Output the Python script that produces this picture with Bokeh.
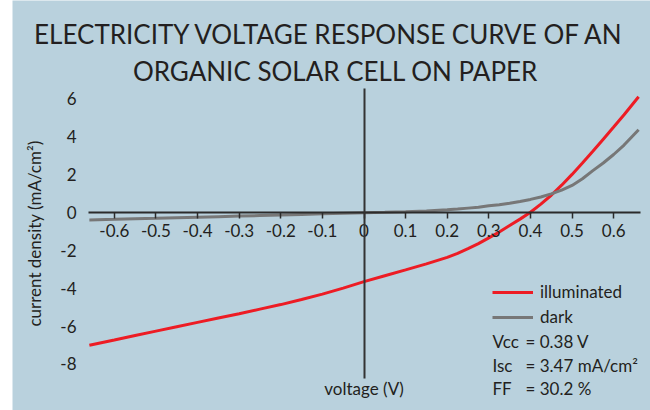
from bokeh.plotting import figure
from bokeh.models import (Range1d, LinearAxis, FixedTicker, Legend,
                          LegendItem, CustomJSTickFormatter)
from bokeh.core.properties import value
from bokeh.embed import file_html
from bokeh.resources import INLINE

# ---------------- data ----------------
voltage = [-0.66, -0.60, -0.55, -0.50, -0.45, -0.40, -0.35, -0.30, -0.25,
           -0.20, -0.15, -0.10, -0.05, 0.00, 0.05, 0.10, 0.15, 0.20, 0.225,
           0.25, 0.275, 0.30, 0.325, 0.35, 0.375, 0.40, 0.425, 0.45, 0.475,
           0.50, 0.525, 0.55, 0.575, 0.60, 0.625, 0.66]
illuminated = [-7.02, -6.74, -6.50, -6.27, -6.04, -5.81, -5.58, -5.35, -5.11,
               -4.87, -4.60, -4.32, -4.00, -3.66, -3.35, -3.04, -2.72, -2.38,
               -2.17, -1.92, -1.65, -1.35, -1.04, -0.70, -0.36, 0.00, 0.43,
               0.90, 1.43, 2.00, 2.60, 3.22, 3.86, 4.50, 5.15, 6.10]
dark = [-0.40, -0.37, -0.34, -0.32, -0.29, -0.26, -0.23, -0.20, -0.17,
        -0.14, -0.11, -0.08, -0.05, -0.02, 0.00, 0.03, 0.07, 0.13, 0.17,
        0.22, 0.27, 0.34, 0.40, 0.48, 0.57, 0.68, 0.81, 0.97, 1.17,
        1.42, 1.77, 2.20, 2.60, 3.05, 3.55, 4.36]

x_ticks = [-0.6, -0.5, -0.4, -0.3, -0.2, -0.1, 0, 0.1, 0.2, 0.3, 0.4, 0.5, 0.6]
y_ticks = [-8, -6, -4, -2, 0, 2, 4, 6]

title_lines = ["ELECTRICITY VOLTAGE RESPONSE CURVE OF AN",
               "ORGANIC SOLAR CELL ON PAPER"]
series_names = ["illuminated", "dark"]
stat_names = ["Vcc", "Isc", "FF"]
stat_values = ["= 0.38 V", "= 3.47 mA/cm\u00b2", "= 30.2 %"]
x_label = "voltage (V)"
y_label = "current density (mA/cm\u00b2)"

# ---------------- style ----------------
BG = "#b9d1dd"
TEXT = "#231f20"
AXIS = "#2b2b2b"
RED = "#ed1c24"
GRAY = "#777777"
FONT = "Lato"
FS = "17px"
W, H = 650, 410
LEFT_STRIP = 12

# pixel <-> data mapping (page pixels of the picture)
X_ZERO, X_PX = 363.5, 416.1
Y_ZERO, Y_PX = 211.8, 18.95


def dx(px):
    return (px - X_ZERO) / X_PX


def dy(py):
    return (Y_ZERO - py) / Y_PX


p = figure(width=W, height=H,
           x_range=Range1d(dx(LEFT_STRIP), dx(W)),
           y_range=Range1d(dy(H), dy(0)),
           output_backend="svg", toolbar_location=None,
           x_axis_type=None, y_axis_type=None,
           min_border_left=LEFT_STRIP, min_border_right=0,
           min_border_top=0, min_border_bottom=0,
           background_fill_color=BG, border_fill_color="white",
           outline_line_color=None)

fmt = CustomJSTickFormatter(code="return String(tick)")

# horizontal axis through J = 0
xaxis = LinearAxis(fixed_location=0, ticker=FixedTicker(ticks=x_ticks),
                   bounds=(dx(88), dx(640)), formatter=fmt,
                   major_tick_in=0, major_tick_out=6,
                   minor_tick_line_color=None,
                   axis_line_color=AXIS, axis_line_width=2,
                   major_tick_line_color=AXIS, major_tick_line_width=1.5,
                   major_label_text_font=FONT,
                   major_label_text_font_size=FS,
                   major_label_text_color=TEXT,
                   major_label_standoff=6)
p.add_layout(xaxis, "below")

# y tick labels + y axis title at the left of the data area
yaxis = LinearAxis(fixed_location=dx(88), ticker=FixedTicker(ticks=y_ticks),
                   bounds=(dy(378), dy(88)), formatter=fmt,
                   axis_line_color=None, major_tick_line_color=None,
                   minor_tick_line_color=None,
                   major_label_standoff=6,
                   major_label_text_font=FONT,
                   major_label_text_font_size=FS,
                   major_label_text_color=TEXT,
                   axis_label=y_label,
                   axis_label_text_font=FONT,
                   axis_label_text_font_size=FS,
                   axis_label_text_font_style="normal",
                   axis_label_text_color=TEXT,
                   axis_label_standoff=12)
p.add_layout(yaxis, "left")

# vertical axis line through V = 0
vline = LinearAxis(fixed_location=0, ticker=FixedTicker(ticks=[]),
                   bounds=(dy(378), dy(88)),
                   axis_line_color="#333333", axis_line_width=2,
                   major_tick_line_color=None, minor_tick_line_color=None,
                   major_label_text_font_size="0px")
p.add_layout(vline, "left")

r_ill = p.line(voltage, illuminated, line_color=RED, line_width=3)
r_dark = p.line(voltage, dark, line_color=GRAY, line_width=3)

legend = Legend(items=[LegendItem(label=series_names[0], renderers=[r_ill]),
                       LegendItem(label=series_names[1], renderers=[r_dark])],
                location=(492 - LEFT_STRIP, H - 327), background_fill_alpha=0,
                border_line_color=None, label_text_font=FONT,
                label_text_font_size=FS, label_text_color=TEXT,
                glyph_width=41, glyph_height=20, label_height=20,
                label_standoff=7, spacing=4, padding=0, margin=0)
p.add_layout(legend)

text_kw = dict(text_font=value(FONT), text_color=TEXT)

stat_rows = [340.7, 365.0, 388.3]
p.text(x=[dx(492)] * 3, y=[dy(r) for r in stat_rows], text=stat_names,
       text_font_size=FS, text_baseline="middle", **text_kw)
p.text(x=[dx(525)] * 3, y=[dy(r) for r in stat_rows], text=stat_values,
       text_font_size=FS, text_baseline="middle", **text_kw)

p.text(x=[0], y=[dy(388)], text=[x_label], text_font_size=FS,
       text_align="center", text_baseline="middle", **text_kw)

p.text(x=[dx(329), dx(335)], y=[dy(33), dy(70)], text=title_lines,
       text_font_size="26px", text_align="center",
       text_baseline="alphabetic", **text_kw)

open("out.html", "w").write(file_html(p, INLINE))
